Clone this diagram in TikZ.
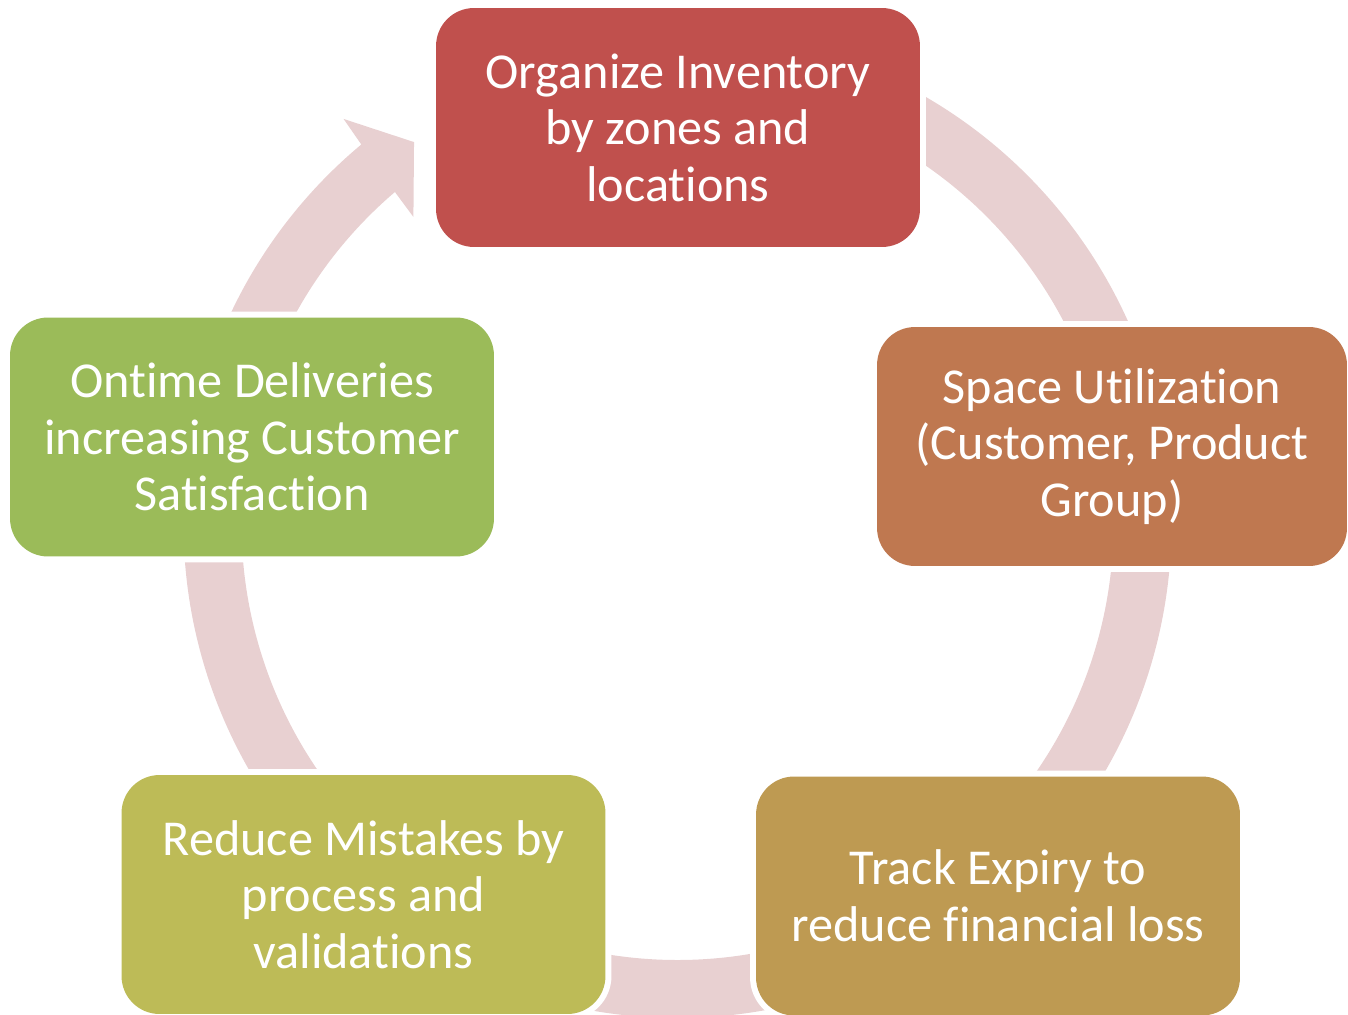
\documentclass[tikz,border=0pt]{standalone}
\usepackage{fontspec}
\setmainfont{Carlito}[Ligatures=CommonOff]

\definecolor{ringpink}{HTML}{E8D0D1}
\definecolor{boxred}{HTML}{C0504D}
\definecolor{boxorange}{HTML}{BF7850}
\definecolor{boxgold}{HTML}{BE9A52}
\definecolor{boxolive}{HTML}{BDBB57}
\definecolor{boxgreen}{HTML}{9BBB59}

\tikzset{
  stagebox/.style={rectangle, rounded corners=0.76cm, minimum width=9.68cm, minimum height=4.78cm,
    inner sep=0pt, align=center, text=white, font=\fontsize{28.6}{32.2}\selectfont,
    preaction={draw=white, line width=0.24cm}},
  ringband/.style={line width=1.16cm, color=ringpink}
}

\begin{document}
\begin{tikzpicture}[x=0.02cm, y=0.02cm]
  \useasboundingbox (0,0) rectangle (1348,-1014);

  % ring behind the boxes
  \begin{scope}[shift={(677.5,-524)}]
    \draw [ringband] (62:465) arc[start angle=62, end angle=20, radius=465];
    \draw [ringband] (-2:465) arc[start angle=-2, end angle=-40, radius=465];
    \draw [ringband] (-60:465) arc[start angle=-60, end angle=-120, radius=465];
    \draw [ringband] (178:465) arc[start angle=178, end angle=220, radius=465];
    \fill [ringpink] (170:494) arc[start angle=170, end angle=129.8, radius=494]
      -- (129.5:525) -- (124.6:464) -- (130.7:405) -- (130.4:436)
      arc[start angle=130.4, end angle=170, radius=436] -- cycle;
  \end{scope}

  \node [stagebox, fill=boxred] (organize) at (678,-127.5) {Organize Inventory\\by zones and\\locations};
  \node [stagebox, fill=boxorange, minimum width=9.4cm] (space) at (1112,-446.5) {Space Utilization\\(Customer, Product\\Group)};
  \node [stagebox, fill=boxgold] (expiry) at (998,-896) {Track Expiry to\\reduce financial loss};
  \node [stagebox, fill=boxolive] (mistakes) at (363.5,-894.5) {Reduce Mistakes by\\process and\\validations};
  \node [stagebox, fill=boxgreen] (ontime) at (252,-437) {Ontime Deliveries\\increasing Customer\\Satisfaction};
\end{tikzpicture}
\end{document}
